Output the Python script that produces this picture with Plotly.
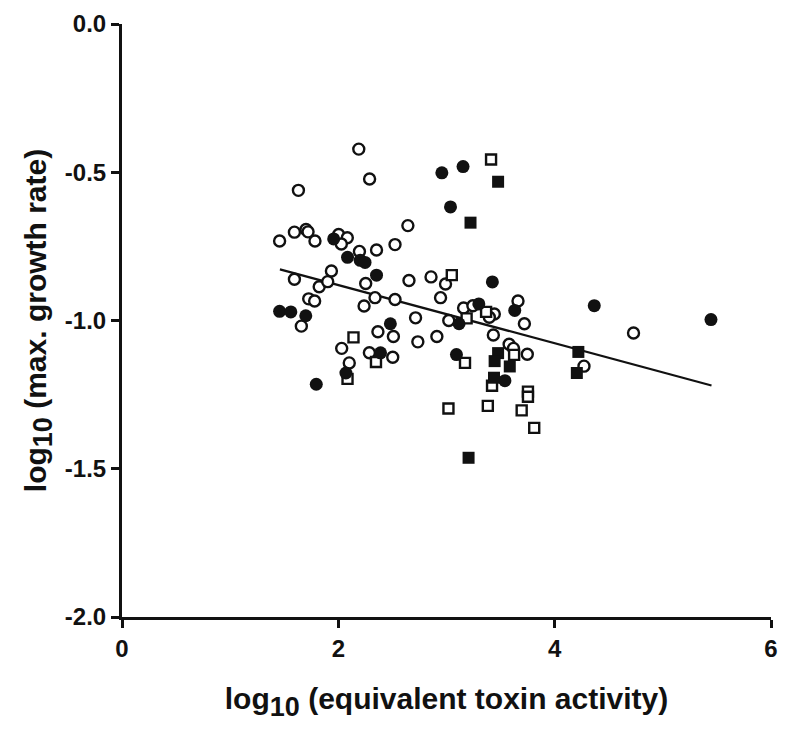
import plotly.graph_objects as go

# ---- data ----
open_circle_x = [1.631, 1.457, 1.594, 1.701, 1.720, 1.784, 1.594, 1.823, 1.902, 1.936,
                 1.726, 1.781, 1.658, 2.189, 2.289, 2.643, 2.003, 2.083, 2.028, 2.195,
                 2.353, 2.524, 2.253, 2.653, 2.857, 2.991, 2.339, 2.524, 2.945, 3.661,
                 2.238, 3.158, 3.244, 3.442, 3.396, 3.720, 2.714, 3.021, 2.366, 2.509,
                 2.911, 2.735, 3.433, 2.031, 2.287, 2.503, 2.101, 3.579, 3.619, 3.747,
                 4.729, 4.271]
open_circle_y = [-0.561, -0.732, -0.702, -0.693, -0.701, -0.732, -0.861, -0.886, -0.869, -0.833,
                 -0.927, -0.934, -1.019, -0.422, -0.523, -0.680, -0.710, -0.721, -0.742, -0.767,
                 -0.762, -0.744, -0.875, -0.865, -0.853, -0.877, -0.923, -0.929, -0.923, -0.934,
                 -0.951, -0.958, -0.950, -0.978, -0.989, -1.011, -0.991, -1.000, -1.038, -1.054,
                 -1.054, -1.072, -1.049, -1.094, -1.109, -1.124, -1.143, -1.080, -1.094, -1.114,
                 -1.042, -1.154]

filled_circle_x = [1.457, 1.561, 1.699, 1.796, 1.957, 2.085, 2.202, 2.247, 2.353, 2.481,
                   2.390, 2.070, 2.957, 3.153, 3.037, 3.424, 3.299, 3.631, 3.116, 3.092,
                   3.540, 4.366, 5.445]
filled_circle_y = [-0.969, -0.971, -0.984, -1.215, -0.725, -0.787, -0.797, -0.804, -0.847, -1.011,
                   -1.109, -1.177, -0.502, -0.481, -0.617, -0.870, -0.944, -0.966, -1.011, -1.115,
                   -1.203, -0.950, -0.997]

filled_square_x = [3.477, 3.222, 3.477, 3.445, 3.585, 3.439, 3.204, 4.219, 4.205]
filled_square_y = [-0.532, -0.670, -1.110, -1.137, -1.155, -1.193, -1.463, -1.106, -1.177]

open_square_x = [3.412, 3.049, 3.366, 3.186, 2.140, 2.348, 2.085, 3.171, 3.625, 3.421,
                 3.753, 3.753, 3.018, 3.382, 3.695, 3.811]
open_square_y = [-0.457, -0.847, -0.971, -0.993, -1.057, -1.140, -1.197, -1.143, -1.116, -1.220,
                 -1.240, -1.257, -1.297, -1.288, -1.303, -1.362]

fit_intercept = -0.684
fit_slope = -0.0982
fit_x = [1.46, 5.45]
fit_y = [fit_intercept + fit_slope * v for v in fit_x]

x_tickvals = [0, 2, 4, 6]
x_ticktext = ["0", "2", "4", "6"]
y_tickvals = [0.0, -0.5, -1.0, -1.5, -2.0]
y_ticktext = ["0.0", "-0.5", "-1.0", "-1.5", "-2.0"]

INK = "#111111"
FONT = "Liberation Sans Narrow, Liberation Sans, Arial, sans-serif"

fig = go.Figure()

fig.add_trace(go.Scatter(x=fit_x, y=fit_y, mode="lines",
                         line=dict(color=INK, width=2.2), hoverinfo="skip"))
fig.add_trace(go.Scatter(x=open_circle_x, y=open_circle_y, mode="markers",
                         marker=dict(symbol="circle", size=11, color="white",
                                     line=dict(color=INK, width=2.4))))
fig.add_trace(go.Scatter(x=open_square_x, y=open_square_y, mode="markers",
                         marker=dict(symbol="square", size=10, color="white",
                                     line=dict(color=INK, width=2.4))))
fig.add_trace(go.Scatter(x=filled_circle_x, y=filled_circle_y, mode="markers",
                         marker=dict(symbol="circle", size=13, color=INK,
                                     line=dict(color=INK, width=0))))
fig.add_trace(go.Scatter(x=filled_square_x, y=filled_square_y, mode="markers",
                         marker=dict(symbol="square", size=12, color=INK,
                                     line=dict(color=INK, width=0))))

fig.update_layout(
    width=788, height=730,
    margin=dict(l=122, r=10, t=15, b=113),
    paper_bgcolor="white", plot_bgcolor="white",
    showlegend=False,
    font=dict(family=FONT, color=INK),
)

SUB = '<sub><span style="font-size:27px">10</span></sub>'

fig.update_xaxes(
    range=[0, 6], tickmode="array", tickvals=x_tickvals, ticktext=x_ticktext,
    showline=True, linecolor=INK, linewidth=3,
    ticks="outside", ticklen=8, tickwidth=3, tickcolor=INK,
    showgrid=False, zeroline=False,
    tickfont=dict(size=24, family=FONT, weight="bold", color=INK),
    title=dict(text="log" + SUB + " (equivalent toxin activity)",
               font=dict(size=30, family=FONT, weight="bold", color=INK),
               standoff=28),
)
fig.update_yaxes(
    range=[-2.0, 0.0], tickmode="array", tickvals=y_tickvals, ticktext=y_ticktext,
    showline=True, linecolor=INK, linewidth=3,
    ticks="outside", ticklen=8, tickwidth=3, tickcolor=INK,
    showgrid=False, zeroline=False,
    tickfont=dict(size=24, family=FONT, weight="bold", color=INK),
    title=dict(text="log" + SUB + " (max. growth rate)",
               font=dict(size=30, family=FONT, weight="bold", color=INK),
               standoff=10),
)

fig.write_html("out.html")
